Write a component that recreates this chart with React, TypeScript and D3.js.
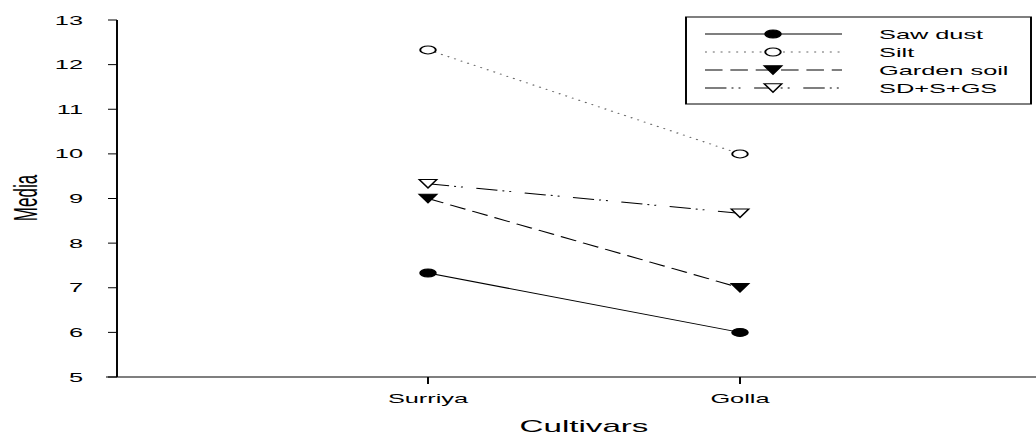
import React from "react";
import * as d3 from "d3";

const categories = ["Surriya", "Golla"];
const seriesNames = ["Saw dust", "Silt", "Garden soil", "SD+S+GS"];
const sawDust = [7.33, 6.0];
const silt = [12.33, 10.0];
const gardenSoil = [9.0, 7.0];
const sdsgs = [9.33, 8.67];
const yTicks = [5, 6, 7, 8, 9, 10, 11, 12, 13];

const S = 1.95; // horizontal stretch
const W = 1036;
const H = 435;
const W0 = W / S;

const series = [
  { name: seriesNames[0], values: sawDust, dash: "none", color: "#000", marker: "circle", fill: "#000" },
  { name: seriesNames[1], values: silt, dash: "1,3", color: "#666", marker: "circle", fill: "#fff" },
  { name: seriesNames[2], values: gardenSoil, dash: "9,4", color: "#000", marker: "tri", fill: "#000" },
  { name: seriesNames[3], values: sdsgs, dash: "11,2.6,1,2.6,1,7", color: "#000", marker: "tri", fill: "#fff" },
];

const font = "'Liberation Sans', Arial, sans-serif";

function Marker({ type, x, y, fill }: { type: string; x: number; y: number; fill: string }) {
  if (type === "circle") {
    return <circle cx={x} cy={y} r={4} fill={fill} stroke="#000" strokeWidth={1} />;
  }
  const w = 4.5, h = 4.2;
  const pts = `${x - w},${y - h} ${x + w},${y - h} ${x},${y + h}`;
  return <polygon points={pts} fill={fill} stroke="#000" strokeWidth={1} />;
}

export default function App() {
  const x = d3.scaleLinear().domain([0, 3]).range([116 / S, 1052 / S]);
  const y = d3.scaleLinear().domain([5, 13]).range([377, 20]);
  const axisX = 117 / S;
  const line = d3
    .line<number>()
    .x((_, i) => x(i + 1))
    .y((d) => y(d));

  const legX0 = 686 / S, legX1 = 1031 / S, legY0 = 17, legY1 = 104;
  const lx0 = 705 / S, lx1 = 842 / S, lm = 773 / S, lt = 879 / S;
  const rowY = [34, 52, 70, 88];

  return (
    <svg
      width={W}
      height={H}
      viewBox={`0 0 ${W0} ${H}`}
      preserveAspectRatio="none"
      style={{ position: "absolute", left: 0, top: 0, background: "#fff" }}
      fontFamily={font}
    >
      <rect x={0} y={0} width={W0} height={H} fill="#fff" />
      <line x1={axisX} x2={axisX} y1={y(13)} y2={y(5)} stroke="#000" strokeWidth={1} />
      <line x1={106 / S} x2={W0} y1={y(5)} y2={y(5)} stroke="#000" strokeWidth={1} />
      {yTicks.map((t) => (
        <g key={t}>
          <line x1={108 / S} x2={axisX} y1={y(t)} y2={y(t)} stroke="#000" strokeWidth={1} />
          <text x={83 / S} y={y(t)} dy="0.35em" textAnchor="end" fontSize={13} fill="#000">
            {t}
          </text>
        </g>
      ))}
      {categories.map((c, i) => (
        <g key={c}>
          <line x1={x(i + 1)} x2={x(i + 1)} y1={y(5)} y2={y(5) + 7} stroke="#000" strokeWidth={1} />
          <text x={x(i + 1)} y={403} textAnchor="middle" fontSize={13} fill="#000">
            {c}
          </text>
        </g>
      ))}
      <text x={x(1.5)} y={432} textAnchor="middle" fontSize={17} fill="#000">
        Cultivars
      </text>
      <text
        transform={`translate(${25 / S},198) rotate(-90)`}
        textAnchor="middle"
        dy="0.35em"
        fontSize={17}
        fill="#000"
      >
        Media
      </text>
      {series.map((s) => (
        <g key={s.name}>
          <path d={line(s.values) || ""} fill="none" stroke={s.color} strokeWidth={1} strokeDasharray={s.dash} />
          {s.values.map((v, i) => (
            <Marker key={i} type={s.marker} x={x(i + 1)} y={y(v)} fill={s.fill} />
          ))}
        </g>
      ))}
      <rect x={legX0} y={legY0} width={legX1 - legX0} height={legY1 - legY0} fill="#fff" stroke="#000" strokeWidth={1} />
      {series.map((s, i) => (
        <g key={s.name}>
          <line x1={lx0} x2={lx1} y1={rowY[i]} y2={rowY[i]} stroke={s.color} strokeWidth={1} strokeDasharray={s.dash} />
          <Marker type={s.marker} x={lm} y={rowY[i]} fill={s.fill} />
          <text x={lt} y={rowY[i]} dy="0.35em" fontSize={13} fill="#000">
            {s.name}
          </text>
        </g>
      ))}
    </svg>
  );
}
